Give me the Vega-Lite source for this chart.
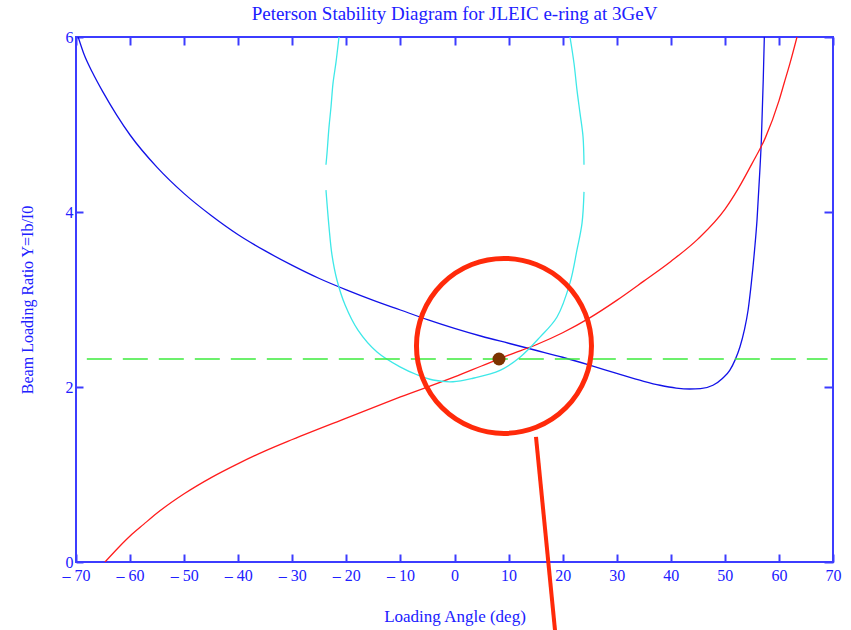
{
  "$schema": "https://vega.github.io/schema/vega-lite/v6.json",
  "width": 757,
  "height": 525,
  "autosize": "none",
  "padding": {"left": 76, "top": 37, "right": 18, "bottom": 68},
  "background": "white",
  "config": {
    "view": {"stroke": "#3c3cff", "strokeWidth": 2},
    "axis": {"grid": false, "domain": false, "tickColor": "#3c3cff", "tickWidth": 2, "labelColor": "#2020ff", "titleColor": "#2020ff", "labelFont": "Liberation Serif", "titleFont": "Liberation Serif", "titleFontWeight": "normal", "labelFontSize": 16, "titleFontSize": 17}
  },
  "title": {"text": "Peterson Stability Diagram for JLEIC e-ring at 3GeV", "font": "Liberation Serif", "fontSize": 19, "fontWeight": "normal", "color": "#2020ff", "offset": 5},
  "datasets": {
    "curves": [
      {"curve": "blue", "x": -69.6, "y": 6.0},
      {"curve": "blue", "x": -68.5, "y": 5.8},
      {"curve": "blue", "x": -67.0, "y": 5.6},
      {"curve": "blue", "x": -65.0, "y": 5.37},
      {"curve": "blue", "x": -62.5, "y": 5.11},
      {"curve": "blue", "x": -60.0, "y": 4.88},
      {"curve": "blue", "x": -55.0, "y": 4.51},
      {"curve": "blue", "x": -50.0, "y": 4.21},
      {"curve": "blue", "x": -45.0, "y": 3.96},
      {"curve": "blue", "x": -40.0, "y": 3.74},
      {"curve": "blue", "x": -35.0, "y": 3.555},
      {"curve": "blue", "x": -30.0, "y": 3.39},
      {"curve": "blue", "x": -25.0, "y": 3.24},
      {"curve": "blue", "x": -20.0, "y": 3.11},
      {"curve": "blue", "x": -15.0, "y": 2.99},
      {"curve": "blue", "x": -10.0, "y": 2.88},
      {"curve": "blue", "x": -5.0, "y": 2.77},
      {"curve": "blue", "x": 0.0, "y": 2.67},
      {"curve": "blue", "x": 5.0, "y": 2.58},
      {"curve": "blue", "x": 10.0, "y": 2.5},
      {"curve": "blue", "x": 15.0, "y": 2.42},
      {"curve": "blue", "x": 20.0, "y": 2.34},
      {"curve": "blue", "x": 25.0, "y": 2.25},
      {"curve": "blue", "x": 30.0, "y": 2.155},
      {"curve": "blue", "x": 35.0, "y": 2.065},
      {"curve": "blue", "x": 38.0, "y": 2.02},
      {"curve": "blue", "x": 41.0, "y": 1.988},
      {"curve": "blue", "x": 43.5, "y": 1.977},
      {"curve": "blue", "x": 45.5, "y": 1.982},
      {"curve": "blue", "x": 47.8, "y": 2.02},
      {"curve": "blue", "x": 49.6, "y": 2.1},
      {"curve": "blue", "x": 50.9, "y": 2.19},
      {"curve": "blue", "x": 51.9, "y": 2.31},
      {"curve": "blue", "x": 52.8, "y": 2.46},
      {"curve": "blue", "x": 53.6, "y": 2.65},
      {"curve": "blue", "x": 54.3, "y": 2.88},
      {"curve": "blue", "x": 54.9, "y": 3.19},
      {"curve": "blue", "x": 55.5, "y": 3.57},
      {"curve": "blue", "x": 55.95, "y": 3.91},
      {"curve": "blue", "x": 56.45, "y": 4.45},
      {"curve": "blue", "x": 56.75, "y": 4.82},
      {"curve": "blue", "x": 57.1, "y": 5.51},
      {"curve": "blue", "x": 57.3, "y": 6.0},
      {"curve": "red", "x": -64.64, "y": 0.0},
      {"curve": "red", "x": -62.0, "y": 0.175},
      {"curve": "red", "x": -60.0, "y": 0.297},
      {"curve": "red", "x": -57.5, "y": 0.43},
      {"curve": "red", "x": -55.0, "y": 0.56},
      {"curve": "red", "x": -50.0, "y": 0.78},
      {"curve": "red", "x": -45.0, "y": 0.965},
      {"curve": "red", "x": -40.0, "y": 1.125},
      {"curve": "red", "x": -35.0, "y": 1.27},
      {"curve": "red", "x": -30.0, "y": 1.4},
      {"curve": "red", "x": -20.0, "y": 1.645},
      {"curve": "red", "x": -10.0, "y": 1.886},
      {"curve": "red", "x": 0.0, "y": 2.115},
      {"curve": "red", "x": 5.0, "y": 2.24},
      {"curve": "red", "x": 10.0, "y": 2.365},
      {"curve": "red", "x": 15.0, "y": 2.48},
      {"curve": "red", "x": 20.0, "y": 2.62},
      {"curve": "red", "x": 25.0, "y": 2.79},
      {"curve": "red", "x": 30.0, "y": 2.99},
      {"curve": "red", "x": 35.0, "y": 3.21},
      {"curve": "red", "x": 40.0, "y": 3.435},
      {"curve": "red", "x": 45.0, "y": 3.69},
      {"curve": "red", "x": 50.0, "y": 4.03},
      {"curve": "red", "x": 52.5, "y": 4.27},
      {"curve": "red", "x": 55.0, "y": 4.55},
      {"curve": "red", "x": 57.5, "y": 4.85},
      {"curve": "red", "x": 60.0, "y": 5.27},
      {"curve": "red", "x": 61.0, "y": 5.48},
      {"curve": "red", "x": 62.0, "y": 5.69},
      {"curve": "red", "x": 63.34, "y": 6.0}
    ],
    "cyan": [
      {"seg": "cL", "i": 1, "x": -21.36, "y": 6.0},
      {"seg": "cL", "i": 2, "x": -21.92, "y": 5.71},
      {"seg": "cL", "i": 3, "x": -22.47, "y": 5.47},
      {"seg": "cL", "i": 4, "x": -22.84, "y": 5.2},
      {"seg": "cL", "i": 5, "x": -23.21, "y": 4.97},
      {"seg": "cL", "i": 6, "x": -23.58, "y": 4.67},
      {"seg": "cL", "i": 7, "x": -23.77, "y": 4.54},
      {"seg": "cR", "i": 1, "x": 21.36, "y": 6.0},
      {"seg": "cR", "i": 2, "x": 22.1, "y": 5.7},
      {"seg": "cR", "i": 3, "x": 22.66, "y": 5.39},
      {"seg": "cR", "i": 4, "x": 23.21, "y": 5.13},
      {"seg": "cR", "i": 5, "x": 23.77, "y": 4.86},
      {"seg": "cR", "i": 6, "x": 23.95, "y": 4.54},
      {"seg": "cB", "i": 1, "x": -23.77, "y": 4.25},
      {"seg": "cB", "i": 2, "x": -23.21, "y": 3.83},
      {"seg": "cB", "i": 3, "x": -22.66, "y": 3.51},
      {"seg": "cB", "i": 4, "x": -21.73, "y": 3.22},
      {"seg": "cB", "i": 5, "x": -20.25, "y": 2.94},
      {"seg": "cB", "i": 6, "x": -17.85, "y": 2.65},
      {"seg": "cB", "i": 7, "x": -14.33, "y": 2.4},
      {"seg": "cB", "i": 8, "x": -10.08, "y": 2.23},
      {"seg": "cB", "i": 9, "x": -6.94, "y": 2.14},
      {"seg": "cB", "i": 10, "x": -3.98, "y": 2.08},
      {"seg": "cB", "i": 11, "x": -0.28, "y": 2.06},
      {"seg": "cB", "i": 12, "x": 3.42, "y": 2.1},
      {"seg": "cB", "i": 13, "x": 8.42, "y": 2.19},
      {"seg": "cB", "i": 14, "x": 12.11, "y": 2.34},
      {"seg": "cB", "i": 15, "x": 15.81, "y": 2.57},
      {"seg": "cB", "i": 16, "x": 18.96, "y": 2.8},
      {"seg": "cB", "i": 17, "x": 21.36, "y": 3.19},
      {"seg": "cB", "i": 18, "x": 22.66, "y": 3.57},
      {"seg": "cB", "i": 19, "x": 23.58, "y": 3.87},
      {"seg": "cB", "i": 20, "x": 23.95, "y": 4.23}
    ],
    "threshold": [
      {"x": -68, "y": 2.32},
      {"x": 69, "y": 2.32}
    ],
    "operating": [
      {"x": 8.23, "y": 2.32}
    ],
    "highlight": [
      {"x": 9.15, "y": 2.47}
    ],
    "pointer": [
      {"x": 15.07, "y": 1.43, "i": 1},
      {"x": 18.59, "y": -0.78, "i": 2}
    ]
  },
  "resolve": {"axis": {"x": "independent", "y": "independent"}},
  "layer": [
    {
      "data": {"name": "curves"},
      "mark": {"type": "line", "strokeWidth": 1.3, "clip": true, "interpolate": "monotone"},
      "encoding": {
        "x": {"field": "x", "type": "quantitative", "scale": {"domain": [-70, 70], "nice": false, "zero": false},
          "axis": {"orient": "bottom", "values": [-70, -60, -50, -40, -30, -20, -10, 0, 10, 20, 30, 40, 50, 60, 70], "tickSize": -8, "labelPadding": 13, "labelExpr": "datum.value < 0 ? '\u2013 ' + abs(datum.value) : datum.label", "title": "Loading Angle (deg)", "titlePadding": 25, "labelFlush": false, "labelOverlap": false}},
        "y": {"field": "y", "type": "quantitative", "scale": {"domain": [0, 6], "nice": false, "zero": false},
          "axis": {"orient": "left", "values": [0, 2, 4, 6], "tickSize": -7, "labelPadding": 10, "labelBaseline": "middle", "title": "Beam Loading Ratio Y=Ib/I0", "titleFontSize": 16, "titlePadding": 30, "labelFlush": false, "labelOverlap": false}},
        "color": {"field": "curve", "type": "nominal", "scale": {"domain": ["blue", "red"], "range": ["#1212e8", "#ff1c1c"]}, "legend": null}
      }
    },
    {
      "data": {"name": "cyan"},
      "mark": {"type": "line", "strokeWidth": 1.3, "clip": true, "interpolate": "catmull-rom", "color": "#3ee8e8"},
      "encoding": {
        "x": {"field": "x", "type": "quantitative", "axis": null},
        "y": {"field": "y", "type": "quantitative", "axis": null},
        "detail": {"field": "seg"},
        "order": {"field": "i", "type": "quantitative"}
      }
    },
    {
      "data": {"name": "threshold"},
      "mark": {"type": "line", "color": "#3cec3c", "strokeWidth": 1.5, "strokeDash": [25, 11]},
      "encoding": {
        "x": {"field": "x", "type": "quantitative", "axis": {"orient": "top", "values": [-70, -60, -50, -40, -30, -20, -10, 0, 10, 20, 30, 40, 50, 60, 70], "tickSize": -8, "labels": false, "title": null}},
        "y": {"field": "y", "type": "quantitative", "axis": {"orient": "right", "values": [0, 2, 4, 6], "tickSize": -9, "labels": false, "title": null}}
      }
    },
    {
      "data": {"name": "operating"},
      "mark": {"type": "point", "shape": "circle", "filled": true, "size": 169, "color": "#7b3300", "opacity": 1},
      "encoding": {
        "x": {"field": "x", "type": "quantitative", "axis": null},
        "y": {"field": "y", "type": "quantitative", "axis": null}
      }
    },
    {
      "data": {"name": "highlight"},
      "mark": {"type": "point", "shape": "circle", "filled": false, "size": 30625, "color": "#ff2a0a", "strokeWidth": 5, "opacity": 1},
      "encoding": {
        "x": {"field": "x", "type": "quantitative", "axis": null},
        "y": {"field": "y", "type": "quantitative", "axis": null}
      }
    },
    {
      "data": {"name": "pointer"},
      "mark": {"type": "line", "color": "#ff2a0a", "strokeWidth": 4, "clip": false},
      "encoding": {
        "x": {"field": "x", "type": "quantitative", "axis": null},
        "y": {"field": "y", "type": "quantitative", "axis": null},
        "order": {"field": "i", "type": "quantitative"}
      }
    }
  ]
}
